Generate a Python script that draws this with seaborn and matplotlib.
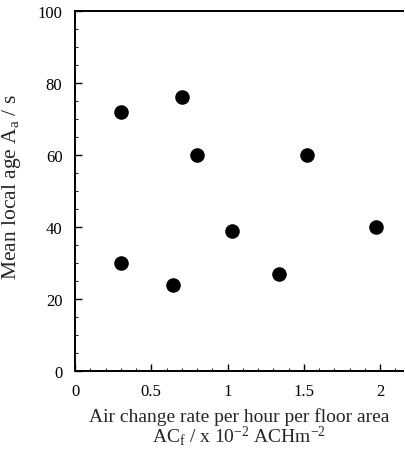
import matplotlib
matplotlib.use("Agg")
import matplotlib.pyplot as plt
from matplotlib.ticker import MultipleLocator
import seaborn as sns
import pandas as pd

# Data
air_change_rate = [0.30, 0.30, 0.70, 0.80, 1.03, 0.64, 1.52, 1.34, 1.97]
mean_local_age = [72, 30, 76, 60, 39, 24, 60, 27, 40]
x_ticks = [0, 0.5, 1, 1.5, 2]
x_tick_labels = ["0", "0.5", "1", "1.5", "2"]
y_ticks = [0, 20, 40, 60, 80, 100]

df = pd.DataFrame({"x": air_change_rate, "y": mean_local_age})

sns.set_style("ticks")
plt.rcParams["font.family"] = ["Liberation Serif", "DejaVu Serif"]
plt.rcParams["mathtext.fontset"] = "custom"
plt.rcParams["mathtext.rm"] = "Liberation Serif"
plt.rcParams["mathtext.it"] = "Liberation Serif:italic"

fig = plt.figure(figsize=(4.05, 4.52), dpi=100)
ax = fig.add_axes([75 / 405, 1 - 372 / 452, 328 / 405, 360 / 452])

sns.scatterplot(data=df, x="x", y="y", ax=ax, color="black", s=110,
                edgecolor="black", linewidth=0, legend=False)

ax.set_xlim(0, 2.15)
ax.set_ylim(0, 100)
ax.set_xticks(x_ticks)
ax.set_xticklabels(x_tick_labels)
ax.set_yticks(y_ticks)
ax.xaxis.set_minor_locator(MultipleLocator(0.1))
ax.yaxis.set_minor_locator(MultipleLocator(5))
ax.tick_params(which="major", direction="in", length=5, width=1.0,
               labelsize=12, colors="black", pad=9)
ax.tick_params(which="minor", direction="in", length=2.5, width=0.8)
ax.tick_params(axis="y", which="major", pad=9)

for side in ["left", "bottom", "top"]:
    ax.spines[side].set_visible(True)
    ax.spines[side].set_linewidth(1.4)
    ax.spines[side].set_color("black")
ax.spines["right"].set_visible(False)

ax.set_xlabel("Air change rate per hour per floor area\n"
              "AC$_\\mathrm{f}$ / x 10$^{-2}$ ACHm$^{-2}$",
              fontsize=14, linespacing=0.88)
ax.xaxis.set_label_coords(0.5, -0.1)
ax.set_ylabel("Mean local age A$_\\mathrm{a}$ / s", fontsize=15.5)
ax.yaxis.set_label_coords(-0.16, 0.515)

fig.savefig("out.png", dpi=100)
